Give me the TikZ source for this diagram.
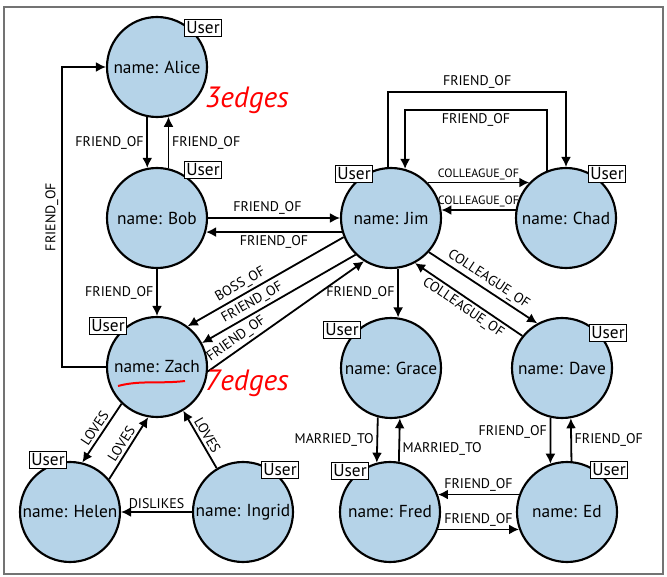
\documentclass[tikz,border=0pt]{standalone}
\usepackage{fontspec}
\setmainfont{PT Sans}
\usetikzlibrary{arrows.meta}
\definecolor{nodeblue}{RGB}{181,211,232}

\begin{document}
\begin{tikzpicture}[x=0.75pt,y=-0.75pt,
  >={Latex[length=7.5pt,width=7.5pt]},
  user/.style={circle,draw,line width=1.6pt,fill=nodeblue,minimum size=75pt,inner sep=0pt,font=\fontsize{13}{15}\selectfont},
  usertag/.style={draw,fill=white,line width=1pt,inner sep=1.5pt,font=\fontsize{13}{15}\selectfont},
  rel/.style={font=\fontsize{10.5}{12}\selectfont,inner sep=2pt},
  smallrel/.style={font=\fontsize{9}{10}\selectfont,inner sep=1.5pt},
  link/.style={->,line width=1.35pt},
  scrawl/.style={red,font=\fontsize{22}{24}\selectfont\itshape}]
  \useasboundingbox (0,0) rectangle (667,577);
  \draw[black!55,line width=1.2pt] (4,7) rectangle (663,574) ; % Draw frame

  % Draw users
  \node[user] (Alice)  at (157,67)  {name: Alice};
  \node[user] (Bob)    at (157,218) {name: Bob};
  \node[user] (Jim)    at (391,218) {name: Jim};
  \node[user] (Chad)   at (566,218) {name: Chad};
  \node[user] (Zach)   at (157,367) {name: Zach};
  \node[user] (Grace)  at (391,368) {name: Grace};
  \node[user] (Dave)   at (562,368) {name: Dave};
  \node[user] (Helen)  at (70,512)  {name: Helen};
  \node[user] (Ingrid) at (243,512) {name: Ingrid};
  \node[user] (Fred)   at (390,512) {name: Fred};
  \node[user] (Ed)     at (567,512) {name: Ed};

  % Draw labels of the users
  \node[usertag] (tAlice)  at (203,28)  {User};
  \node[usertag] (tBob)    at (203,170) {User};
  \node[usertag] (tJim)    at (354,174) {User};
  \node[usertag] (tChad)   at (607,174) {User};
  \node[usertag] (tZach)   at (108,326) {User};
  \node[usertag] (tGrace)  at (342,330) {User};
  \node[usertag] (tDave)   at (608,333) {User};
  \node[usertag] (tHelen)  at (48,460)  {User};
  \node[usertag] (tIngrid) at (280,470) {User};
  \node[usertag] (tFred)   at (350,471) {User};
  \node[usertag] (tEd)     at (609,470) {User};

  % Alice and Bob
  \draw[link] (Alice.-101) -- node[rel,left] {FRIEND\_OF} (Bob.101);
  \draw[link] (Bob.77) -- node[rel,right] {FRIEND\_OF} (Alice.-77);
  \draw[link] (Zach.west) -- ++(-44,0) |- node[rel,pos=0.25,above,sloped] {FRIEND\_OF} (Alice.west);
  \draw[link] (Bob.south) -- node[rel,left] {FRIEND\_OF} (Zach.north);

  % Bob and Jim
  \draw[link] (Bob.east) -- node[rel,pos=0.45,above] {FRIEND\_OF} (Jim.west);
  \draw[link] (Jim.196) -- node[rel,below] {FRIEND\_OF} (Bob.-16);

  % Jim and Zach
  \draw[link,<-] (Zach.53) -- node[rel,pos=0.37,above,sloped] {BOSS\_OF} (Jim.202);
  \draw[link,<-] (Zach.28) -- node[rel,pos=0.36,above,sloped] {FRIEND\_OF} (Jim.226);
  \draw[link] (Zach.-5) -- node[rel,pos=0.22,above,sloped] {FRIEND\_OF} (Jim.238);

  % Jim and Chad
  \draw[link] (Jim.44) -- node[smallrel,above] {COLLEAGUE\_OF} (Chad.136);
  \draw[link] (Chad.171) -- node[smallrel,above] {COLLEAGUE\_OF} (Jim.9);
  \draw[link] (Jim.93) -- ++(0,-75) -| node[rel,pos=0.25,above] {FRIEND\_OF} (Chad.north);
  \draw[link] (Chad.112) -- ++(0,-61) -| node[rel,pos=0.25,below] {FRIEND\_OF} (Jim.74);

  % Jim, Grace and Dave
  \draw[link] (Jim.-82) -- node[rel,left] {FRIEND\_OF} (Grace.82);
  \draw[link] (Jim.-42) -- node[rel,above,sloped] {COLLEAGUE\_OF} (Dave.119);
  \draw[link,<-] (Jim.-62) -- node[rel,below,sloped] {COLLEAGUE\_OF} (Dave.141);

  % Grace and Fred
  \draw[link] (Grace.-105) -- node[rel,left] {MARRIED\_TO} (Fred.105);
  \draw[link] (Fred.80) -- node[rel,pos=0.3,right] {MARRIED\_TO} (Grace.-80);

  % Dave and Ed
  \draw[link] (Dave.-103) -- node[rel,pos=0.3,left] {FRIEND\_OF} (Ed.109);
  \draw[link] (Ed.85) -- node[rel,right] {FRIEND\_OF} (Dave.-80);

  % Fred and Ed
  \draw[link] (Ed.160) -- node[rel,above] {FRIEND\_OF} (Fred.20);
  \draw[link] (Fred.-20) -- node[rel,above] {FRIEND\_OF} (Ed.200);

  % Zach, Helen and Ingrid
  \draw[link,<-] (Helen.76) -- node[rel,above,sloped] {LOVES} (Zach.226);
  \draw[link] (Helen.40) -- node[rel,above,sloped] {LOVES} (Zach.260);
  \draw[link,<-] (Zach.-59) -- node[rel,above,sloped] {LOVES} (Ingrid.121);
  \draw[link] (Ingrid.west) -- node[rel,above] {DISLIKES} (Helen.east);

  % Red notes
  \node[scrawl] (edgesA) at (247,100) {3edges};
  \node[scrawl] (edgesB) at (247,383) {7edges};
  \draw[red,line width=1.5pt] (118,386) .. controls (140,380) and (160,384) .. (185,381);
\end{tikzpicture}
\end{document}
